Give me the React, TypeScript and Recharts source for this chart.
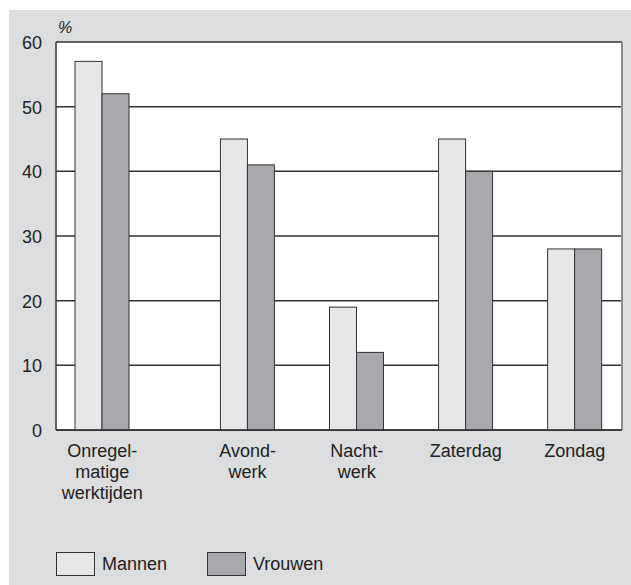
import React from "react";
import {
  ComposedChart,
  Bar,
  XAxis,
  YAxis,
  CartesianGrid,
  Legend,
} from "recharts";

// ---- data ----
const categories = [
  "Onregel-\nmatige\nwerktijden",
  "Avond-\nwerk",
  "Nacht-\nwerk",
  "Zaterdag",
  "Zondag",
];
const mannen = [57, 45, 19, 45, 28];
const vrouwen = [52, 41, 12, 40, 28];
const yTicks = [0, 10, 20, 30, 40, 50, 60];
const seriesNames = { mannen: "Mannen", vrouwen: "Vrouwen" };

// ---- layout (empty slots placed before each category to reproduce spacing) ----
const emptySlotsBefore = [0, 3, 2, 2, 2];
const BAR_W = 27;

const rows: any[] = [];
categories.forEach((c, i) => {
  for (let k = 0; k < emptySlotsBefore[i]; k++) {
    rows.push({ key: `gap-${i}-${k}`, label: "", mannen: null, vrouwen: null });
  }
  rows.push({ key: `cat-${i}`, label: c, mannen: mannen[i], vrouwen: vrouwen[i] });
});
const labelByKey: Record<string, string> = {};
rows.forEach((r) => (labelByKey[r.key] = r.label));

const FONT = "'Liberation Sans', Arial, sans-serif";
const TEXT = "#222";
const FS = 18;

const XTick = (props: any) => {
  const { x, y, payload } = props;
  const label = labelByKey[payload.value] || "";
  if (!label) return null;
  const lines = label.split("\n");
  return (
    <text x={x} y={y} textAnchor="middle" fontFamily={FONT} fontSize={FS} fill={TEXT}>
      {lines.map((l: string, i: number) => (
        <tspan key={i} x={x} y={y + 19 + i * 21}>
          {l}
        </tspan>
      ))}
    </text>
  );
};

const YTick = (props: any) => {
  const { x, y, payload } = props;
  return (
    <text x={x - 6} y={y + 7} textAnchor="end" fontFamily={FONT} fontSize={FS} fill={TEXT}>
      {payload.value}
    </text>
  );
};

const LegendContent = (props: any) => {
  const { payload } = props;
  const positions = [47, 198];
  return (
    <div style={{ position: "relative", height: 40 }}>
      {(payload || []).map((p: any, i: number) => (
        <div
          key={i}
          style={{
            position: "absolute",
            left: positions[i],
            top: 9,
            display: "flex",
            alignItems: "center",
          }}
        >
          <div
            style={{
              width: 37,
              height: 22,
              background: p.color,
              border: "1px solid #333",
            }}
          />
          <span
            style={{
              marginLeft: 7,
              fontFamily: FONT,
              fontSize: FS,
              color: TEXT,
            }}
          >
            {p.value}
          </span>
        </div>
      ))}
    </div>
  );
};

const PercentLabel = (props: any) => {
  const { viewBox } = props;
  const px = viewBox.x + viewBox.width + 2;
  return (
    <text x={px} y={23} fontFamily={FONT} fontSize={16} fontStyle="italic" fill={TEXT}>
      %
    </text>
  );
};

// bars drawn with a fixed width, anchored at the shared category centre
const LeftBar = (props: any) => {
  const { x, y, width, height, fill, stroke } = props;
  if (height == null || !isFinite(height) || height <= 0) return null;
  const right = x + width;
  return <rect x={right - BAR_W} y={y} width={BAR_W} height={height} fill={fill} stroke={stroke} strokeWidth={1} />;
};
const RightBar = (props: any) => {
  const { x, y, height, fill, stroke } = props;
  if (height == null || !isFinite(height) || height <= 0) return null;
  return <rect x={x} y={y} width={BAR_W} height={height} fill={fill} stroke={stroke} strokeWidth={1} />;
};

export default function App() {
  return (
    <div
      style={{
        position: "absolute",
        left: 9,
        top: 10,
        width: 622,
        height: 575,
        background: "#dcdddf",
      }}
    >
      <ComposedChart
        width={622}
        height={575}
        data={rows}
        margin={{ top: 32, right: 9, left: 7, bottom: 2 }}
        barGap={0}
      >
        <CartesianGrid
          horizontal
          vertical={false}
          stroke="#333"
          strokeWidth={1.5}
          fill="#ffffff"
        />
        <CartesianGrid
          horizontal={false}
          vertical
          stroke="#8a8a8a"
          strokeWidth={2}
          verticalCoordinatesGenerator={(p: any) => [p.offset.left + p.offset.width]}
        />
        <XAxis
          dataKey="key"
          interval={0}
          tick={<XTick />}
          tickLine={false}
          axisLine={{ stroke: "#333", strokeWidth: 1.5 }}
          padding={{ left: 28, right: 29 }}
          height={113}
        />
        <YAxis
          domain={[0, 60]}
          ticks={yTicks}
          tick={<YTick />}
          tickLine={false}
          axisLine={{ stroke: "#333", strokeWidth: 1.5 }}
          width={40}
          label={<PercentLabel />}
        />
        <Legend
          verticalAlign="bottom"
          align="left"
          height={40}
          wrapperStyle={{ left: 0, width: 622 }}
          content={<LegendContent />}
        />
        <Bar
          dataKey="mannen"
          name={seriesNames.mannen}
          fill="#e6e7e9"
          stroke="#333"
          barSize={16}
          shape={<LeftBar />}
          isAnimationActive={false}
        />
        <Bar
          dataKey="vrouwen"
          name={seriesNames.vrouwen}
          fill="#a8a9ac"
          stroke="#333"
          barSize={16}
          shape={<RightBar />}
          isAnimationActive={false}
        />
      </ComposedChart>
    </div>
  );
}
